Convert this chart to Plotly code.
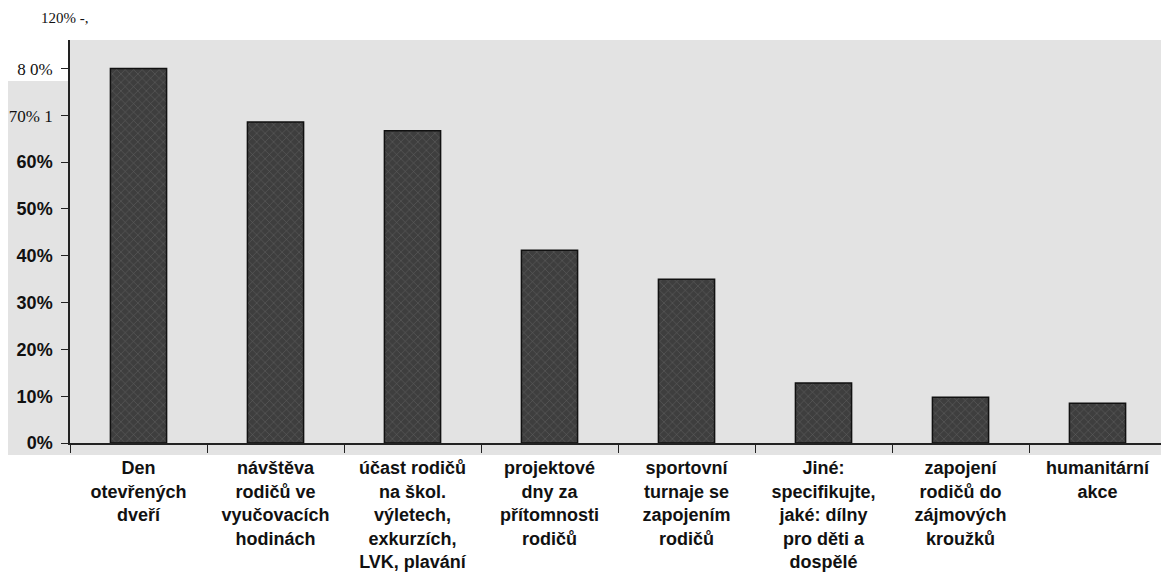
import plotly.graph_objects as go

# categories (x axis labels) and share of answers
categories = [
    "Den<br>otevřených<br>dveří",
    "návštěva<br>rodičů ve<br>vyučovacích<br>hodinách",
    "účast rodičů<br>na škol.<br>výletech,<br>exkurzích,<br>LVK, plavání",
    "projektové<br>dny za<br>přítomnosti<br>rodičů",
    "sportovní<br>turnaje se<br>zapojením<br>rodičů",
    "Jiné:<br>specifikujte,<br>jaké: dílny<br>pro děti a<br>dospělé",
    "zapojení<br>rodičů do<br>zájmových<br>kroužků",
    "humanitární<br>akce",
]
values = [0.80, 0.686, 0.667, 0.412, 0.35, 0.128, 0.098, 0.085]

tick_vals = [0, 0.1, 0.2, 0.3, 0.4, 0.5, 0.6, 0.7, 0.8]
serif = "<span style='font-family:Liberation Serif;font-weight:normal;font-size:17px'>%s</span>"
tick_text = ["<b>0%</b>", "<b>10%</b>", "<b>20%</b>", "<b>30%</b>", "<b>40%</b>",
             "<b>50%</b>", "<b>60%</b>", serif % "70% 1", serif % "8 0%"]

bg = "#e3e3e3"

fig = go.Figure()
fig.add_trace(go.Bar(
    x=["<b>%s</b>" % c.replace("<br>", "</b><br><b>") for c in categories],
    y=values,
    width=0.41,
    marker=dict(
        color="#3e3e3e",
        line=dict(color="#111111", width=1.5),
        pattern=dict(shape="x", fgcolor="#8c8c8c", size=6, solidity=0.15),
    ),
))

# page body has an 8px margin, so the figure is sized/offset to compensate
fig.update_layout(
    width=1161, height=572,
    margin=dict(l=62, r=3, t=32, b=137),
    paper_bgcolor="white",
    plot_bgcolor=bg,
    showlegend=False,
)
# grey backdrop behind the y labels and just under the x axis
fig.add_shape(type="rect", xref="paper", yref="paper", x0=-0.057, x1=0, y0=-0.03, y1=0.898,
              fillcolor=bg, line_width=0, layer="below")
fig.add_shape(type="rect", xref="paper", yref="paper", x0=-0.057, x1=1, y0=-0.03, y1=0,
              fillcolor=bg, line_width=0, layer="below")
fig.update_xaxes(
    automargin=False,
    showline=True, linecolor="#222222", linewidth=1.5,
    ticks="outside", tickson="boundaries", ticklen=8, tickcolor="#222222",
    tickfont=dict(family="Liberation Sans", size=18, color="#111111"),
    tickangle=0, ticklabelstandoff=8,
    showgrid=False,
)
fig.update_yaxes(
    automargin=False,
    range=[0, 0.861],
    tickvals=tick_vals, ticktext=tick_text,
    showline=True, linecolor="#222222", linewidth=1.5,
    ticks="outside", ticklen=7, tickcolor="#222222",
    tickfont=dict(family="Liberation Sans", size=18, color="#111111"),
    ticklabelstandoff=5,
    showgrid=False, zeroline=False,
)
fig.add_annotation(
    text="120% -,", xref="paper", yref="paper", x=-0.005, y=1.0, yshift=22,
    xanchor="center", yanchor="middle", showarrow=False,
    font=dict(family="Liberation Serif", size=15, color="#111111"),
)

fig.write_html("out.html")
